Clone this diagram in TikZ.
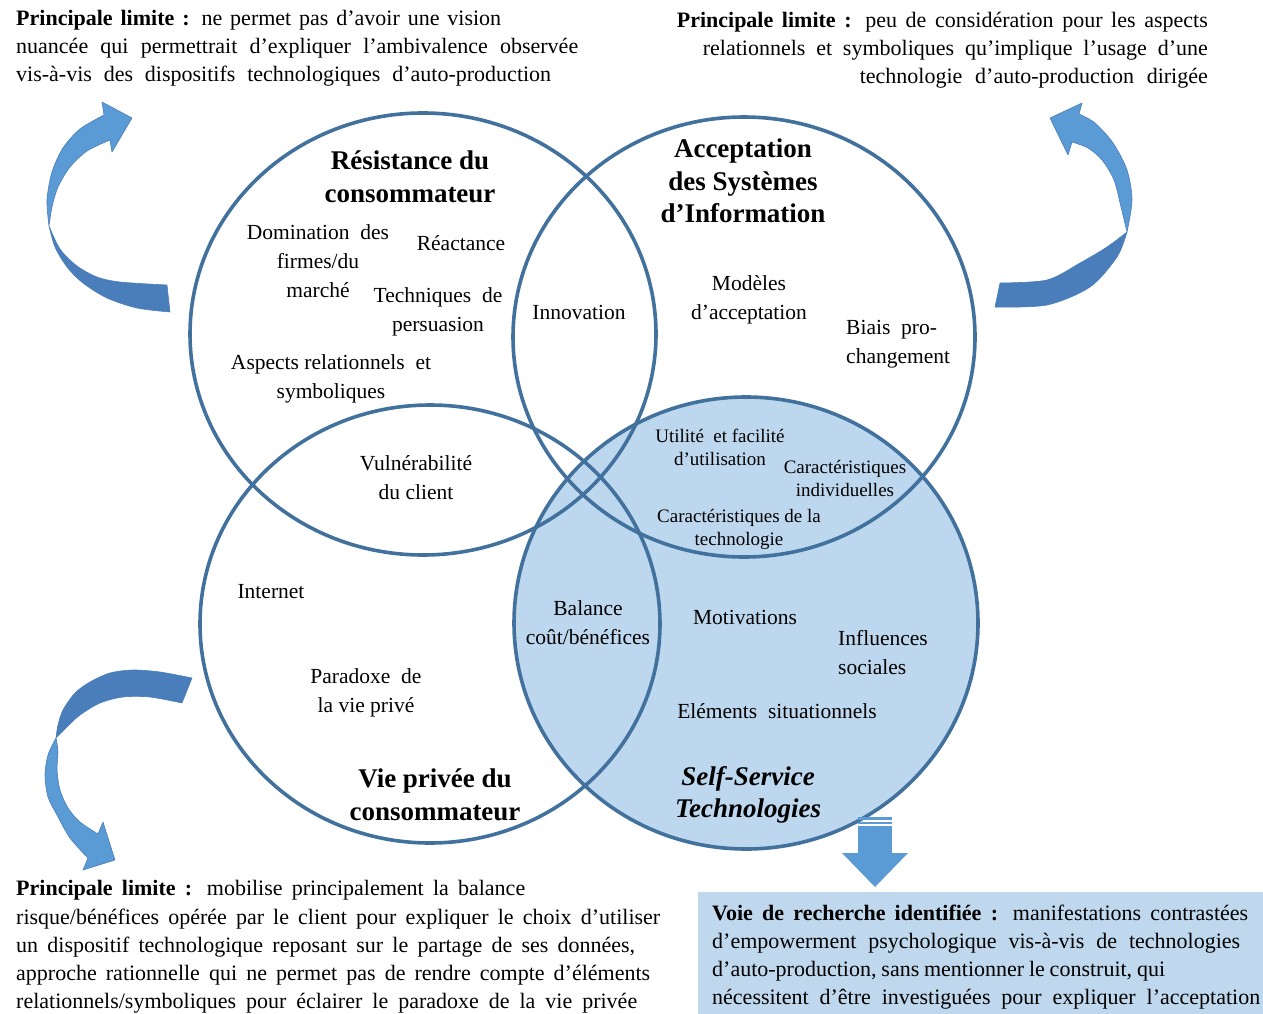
\documentclass[tikz,border=0pt]{standalone}
\usepackage{fontspec}
\setmainfont{Liberation Serif}
\definecolor{ringc}{HTML}{41719C}
\definecolor{sstfill}{HTML}{BDD7EE}
\definecolor{boxfill}{HTML}{C0D8EE}
\definecolor{arlight}{HTML}{5B9BD5}
\definecolor{ardark}{HTML}{4A7EBB}
\newcommand{\jline}[2]{\makebox[#1pt][s]{#2}}
\begin{document}
\begin{tikzpicture}[x=1pt,y=-1pt,
  ring/.style={draw=ringc,line width=3.6pt},
  lnl/.style={inner sep=0pt,anchor=base west,font=\fontsize{22}{28}\selectfont},
  lnr/.style={inner sep=0pt,anchor=base east,font=\fontsize{22}{28}\selectfont},
  item/.style={inner sep=0pt,align=center,font=\fontsize{21.5}{29}\selectfont},
  small/.style={inner sep=0pt,align=center,font=\fontsize{19}{23}\selectfont},
  head/.style={inner sep=0pt,align=center,font=\fontsize{27}{32.5}\selectfont\bfseries},
  curvl/.style={fill=arlight,draw=ardark,line width=0.6pt,line join=round},
  curvd/.style={fill=ardark,draw=ardark,line width=0.6pt,line join=round},
]
\useasboundingbox (0,0) rectangle (1263,1014);

% ---- Venn ellipses ----
\fill[sstfill] (746,623) ellipse [x radius=232, y radius=226];
\draw[ring] (423,334) ellipse [x radius=233, y radius=221];
\draw[ring] (744,337) ellipse [x radius=231, y radius=220];
\draw[ring] (430,624) ellipse [x radius=230, y radius=219];
\draw[ring] (746,623) ellipse [x radius=232, y radius=226];

% ---- headings ----
\node[head] (hres) at (410,177) {Résistance du\\consommateur};
\node[head] (hacc) at (743,181) {Acceptation\\des Systèmes\\d’Information};
\node[head] (hvie) at (435,795) {Vie privée du\\consommateur};
\node[head] (hsst) at (748,795) {\itshape Self-Service\\\itshape Technologies};

% ---- items ----
\node[item] (dom) at (318,261) {Domination\ \ des\\firmes/du\\marché};
\node[item] (rea) at (461,243) {Réactance};
\node[item] (tec) at (438,312) {Techniques\ \ de\\persuasion};
\node[item] (inn) at (579,312) {Innovation};
\node[item] (asp) at (331,379) {Aspects relationnels\ \ et\\symboliques};
\node[item] (mod) at (749,300) {Modèles\\d’acceptation};
\node[item,anchor=west,align=left] (bia) at (846,344) {Biais\ \ pro-\\changement};
\node[item] (vul) at (416,478) {Vulnérabilité\\du client};
\node[small] (uti) at (720,447) {Utilité\ \ et facilité\\d’utilisation};
\node[small] (cind) at (845,478) {Caractéristiques\\individuelles};
\node[small] (ctec) at (739,529) {Caractéristiques de la\\technologie};
\node[item] (int) at (271,592) {Internet};
\node[item] (bal) at (588,623) {Balance\\coût/bénéfices};
\node[item] (mot) at (745,617) {Motivations};
\node[item,anchor=west,align=left] (inf) at (838,653) {Influences\\sociales};
\node[item] (par) at (366,693) {Paradoxe\ \ de\\la vie privé};
\node[item] (ele) at (777,711) {Eléments\ \ situationnels};

% ---- top-left text ----
\node[lnl] (tl1) at (16,26) {\jline{485}{\textbf{Principale limite :} ne permet pas d’avoir une vision}};
\node[lnl] (tl2) at (16,54) {\jline{562}{nuancée qui permettrait d’expliquer l’ambivalence observée}};
\node[lnl] (tl3) at (16,82) {\jline{535}{vis-à-vis des dispositifs technologiques d’auto-production}};

% ---- top-right text ----
\node[lnr] (tr1) at (1208,28) {\jline{531}{\textbf{Principale limite :} peu de considération pour les aspects}};
\node[lnr] (tr2) at (1208,56) {\jline{505}{relationnels et symboliques qu’implique l’usage d’une}};
\node[lnr] (tr3) at (1208,84) {\jline{348}{technologie d’auto-production dirigée}};

% ---- bottom-left text ----
\node[lnl] (bl1) at (16,895) {\jline{509}{\textbf{Principale limite :} mobilise principalement la balance}};
\node[lnl] (bl2) at (16,924) {\jline{644}{risque/bénéfices opérée par le client pour expliquer le choix d’utiliser}};
\node[lnl] (bl3) at (16,952) {\jline{619}{un dispositif technologique reposant sur le partage de ses données,}};
\node[lnl] (bl4) at (16,980) {\jline{634}{approche rationnelle qui ne permet pas de rendre compte d’éléments}};
\node[lnl] (bl5) at (16,1008) {\jline{621}{relationnels/symboliques pour éclairer le paradoxe de la vie privée}};

% ---- bottom-right box ----
\node[fill=boxfill,inner sep=0pt,minimum width=565pt,minimum height=122pt,anchor=north west] (box) at (698,892) {};
\node[lnl] (br1) at (712,920) {\jline{536}{\textbf{Voie de recherche identifiée :} manifestations contrastées}};
\node[lnl] (br2) at (712,948) {\jline{528}{d’empowerment psychologique vis-à-vis de technologies}};
\node[lnl] (br3) at (712,976) {\jline{453}{d’auto-production, sans mentionner le construit, qui}};
\node[lnl] (br4) at (712,1004) {\jline{548}{nécessitent d’être investiguées pour expliquer l’acceptation}};

% ---- down arrow ----
\fill[arlight] (858,826) rectangle (892,854);
\fill[arlight] (858,817) rectangle (892,819.5);
\fill[arlight] (858,821.5) rectangle (892,824);
\fill[arlight] (842,853) -- (908,853) -- (875,887) -- cycle;

% ---- top-left curved arrow ----
\path[curvd] plot[smooth] coordinates {(49,226) (55,247) (67,267) (83,283) (107,298) (137,308) (170,312)}
  -- (167,285)
  -- plot[smooth] coordinates {(167,285) (120,282) (97,277) (77,266) (60,249) (49,226)} -- cycle;
\path[curvl] plot[smooth] coordinates {(49,226) (47,200) (52,172) (63,148) (80,129) (104,115)}
  -- (102,102) -- (132,118) -- (112,152) -- (110,140)
  -- plot[smooth] coordinates {(110,140) (87,151) (70,167) (58,187) (52,207) (49,226)} -- cycle;

% ---- top-right curved arrow ----
\path[curvd] plot[smooth] coordinates {(1127,232) (1117,257) (1090,287) (1047,305) (995,307)}
  -- (1000,283)
  -- plot[smooth] coordinates {(1000,283) (1047,280) (1080,263) (1107,247) (1127,232)} -- cycle;
\path[curvl] plot[smooth] coordinates {(1127,232) (1132,200) (1127,170) (1113,143) (1095,123) (1079,114)}
  -- (1082,103) -- (1050,118) -- (1068,155) -- (1072,142)
  -- plot[smooth] coordinates {(1072,142) (1088,148) (1102,160) (1114,180) (1121,207) (1127,232)} -- cycle;

% ---- bottom-left curved arrow ----
\path[curvd] plot[smooth] coordinates {(56,738) (58,725) (63,710) (75,693) (90,682) (110,673) (133,670) (160,672) (192,678)}
  -- (182,703)
  -- plot[smooth] coordinates {(182,703) (150,697) (123,697) (100,703) (80,715) (67,727) (56,738)} -- cycle;
\path[curvl] plot[smooth] coordinates {(56,738) (48,755) (45,775) (48,797) (57,815) (70,838) (88,858)}
  -- (83,870) -- (115,860) -- (103,822) -- (98,834)
  -- plot[smooth] coordinates {(98,834) (80,822) (68,808) (60,790) (57,770) (58,752) (56,738)} -- cycle;
\end{tikzpicture}
\end{document}
